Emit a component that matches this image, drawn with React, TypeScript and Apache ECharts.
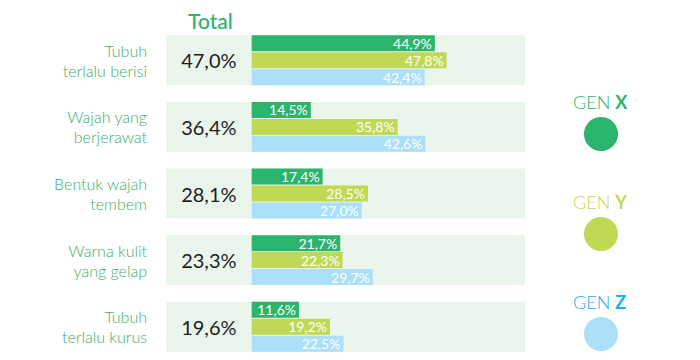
import React, { useEffect, useRef } from "react";
import * as echarts from "echarts";

const categories = [
  "Tubuh\nterlalu berisi",
  "Wajah yang\nberjerawat",
  "Bentuk wajah\ntembem",
  "Warna kulit\nyang gelap",
  "Tubuh\nterlalu kurus",
];
const totalValues = [47.0, 36.4, 28.1, 23.3, 19.6];
const genX = [44.9, 14.5, 17.4, 21.7, 11.6];
const genY = [47.8, 35.8, 28.5, 22.3, 19.2];
const genZ = [42.4, 42.6, 27.0, 29.7, 22.5];
const seriesNames = ["GEN X", "GEN Y", "GEN Z"];
const seriesColors = ["#2bb46b", "#c0d954", "#abdffa"];
const legendTextColors = ["#2bb46b", "#c0d954", "#1ab0e8"];

const X_MIN = -21;
const X_MAX = 67;
const FONT = "Lato, 'Open Sans', sans-serif";

const fmt = (v: number) => v.toFixed(1).replace(".", ",") + "%";

export default function App() {
  const ref = useRef<HTMLDivElement>(null);
  useEffect(() => {
    if (!ref.current) return;
    const chart = echarts.init(ref.current, null, { renderer: "svg" });
    const barSeries = [genX, genY, genZ].map((d, i) => ({
      name: seriesNames[i],
      type: "bar",
      data: d,
      barWidth: 16,
      barGap: "6%",
      z: 3,
      itemStyle: { color: seriesColors[i] },
      label: {
        show: true,
        position: "insideRight",
        distance: 3,
        color: "#ffffff",
        fontSize: 14,
        fontFamily: FONT,
        formatter: (p: any) => fmt(p.value),
      },
    }));
    const legendGraphics: any[] = [];
    seriesNames.forEach((n, i) => {
      const cy = 103 + i * 100;
      legendGraphics.push({
        type: "text",
        left: 573,
        top: cy - 10,
        style: {
          text: "{a|GEN }{b|" + n.split(" ")[1] + "}",
          rich: {
            a: { fontSize: 18, fontFamily: FONT, fill: legendTextColors[i], fontWeight: 300 },
            b: { fontSize: 18, fontFamily: FONT, fill: legendTextColors[i], fontWeight: "bold" },
          },
        },
      });
      legendGraphics.push({
        type: "circle",
        shape: { cx: 601, cy: cy + 31, r: 17 },
        style: { fill: seriesColors[i] },
      });
    });
    chart.setOption({
      animation: false,
      grid: { left: 166, right: 175, top: 27, bottom: 0 },
      title: {
        text: "Total",
        left: 183,
        top: 5,
        textStyle: { color: "#2bb46b", fontSize: 21, fontWeight: 500, fontFamily: FONT },
      },
      xAxis: {
        type: "value",
        min: X_MIN,
        max: X_MAX,
        show: false,
      },
      yAxis: {
        type: "category",
        data: categories,
        inverse: true,
        axisLine: { show: false },
        axisTick: { show: false },
        axisLabel: {
          margin: 19,
          color: "#3aae6c",
          fontSize: 16,
          lineHeight: 20,
          fontFamily: FONT,
          fontWeight: 300,
          align: "right",
        },
      },
      graphic: legendGraphics,
      series: [
        {
          type: "custom",
          z: 1,
          data: totalValues.map((v, i) => [v, i]),
          encode: { x: 0, y: 1 },
          renderItem: (params: any, api: any) => {
            const idx = api.value(1);
            const left = api.coord([X_MIN, idx]);
            const right = api.coord([X_MAX, idx]);
            const zero = api.coord([0, idx]);
            const h = 50;
            return {
              type: "group",
              children: [
                {
                  type: "rect",
                  shape: { x: left[0], y: left[1] - h / 2, width: right[0] - left[0], height: h },
                  style: { fill: "#eaf5eb" },
                },
                {
                  type: "text",
                  style: {
                    text: fmt(api.value(0)),
                    x: (left[0] + zero[0]) / 2,
                    y: left[1],
                    textAlign: "center",
                    textVerticalAlign: "middle",
                    fontSize: 20,
                    fontFamily: FONT,
                    fill: "#1e1e1e",
                  },
                },
              ],
            };
          },
        },
        ...barSeries,
      ],
    });
    return () => chart.dispose();
  }, []);
  return (
    <div
      ref={ref}
      style={{ position: "absolute", left: 0, top: 0, width: 700, height: 360 }}
    />
  );
}
